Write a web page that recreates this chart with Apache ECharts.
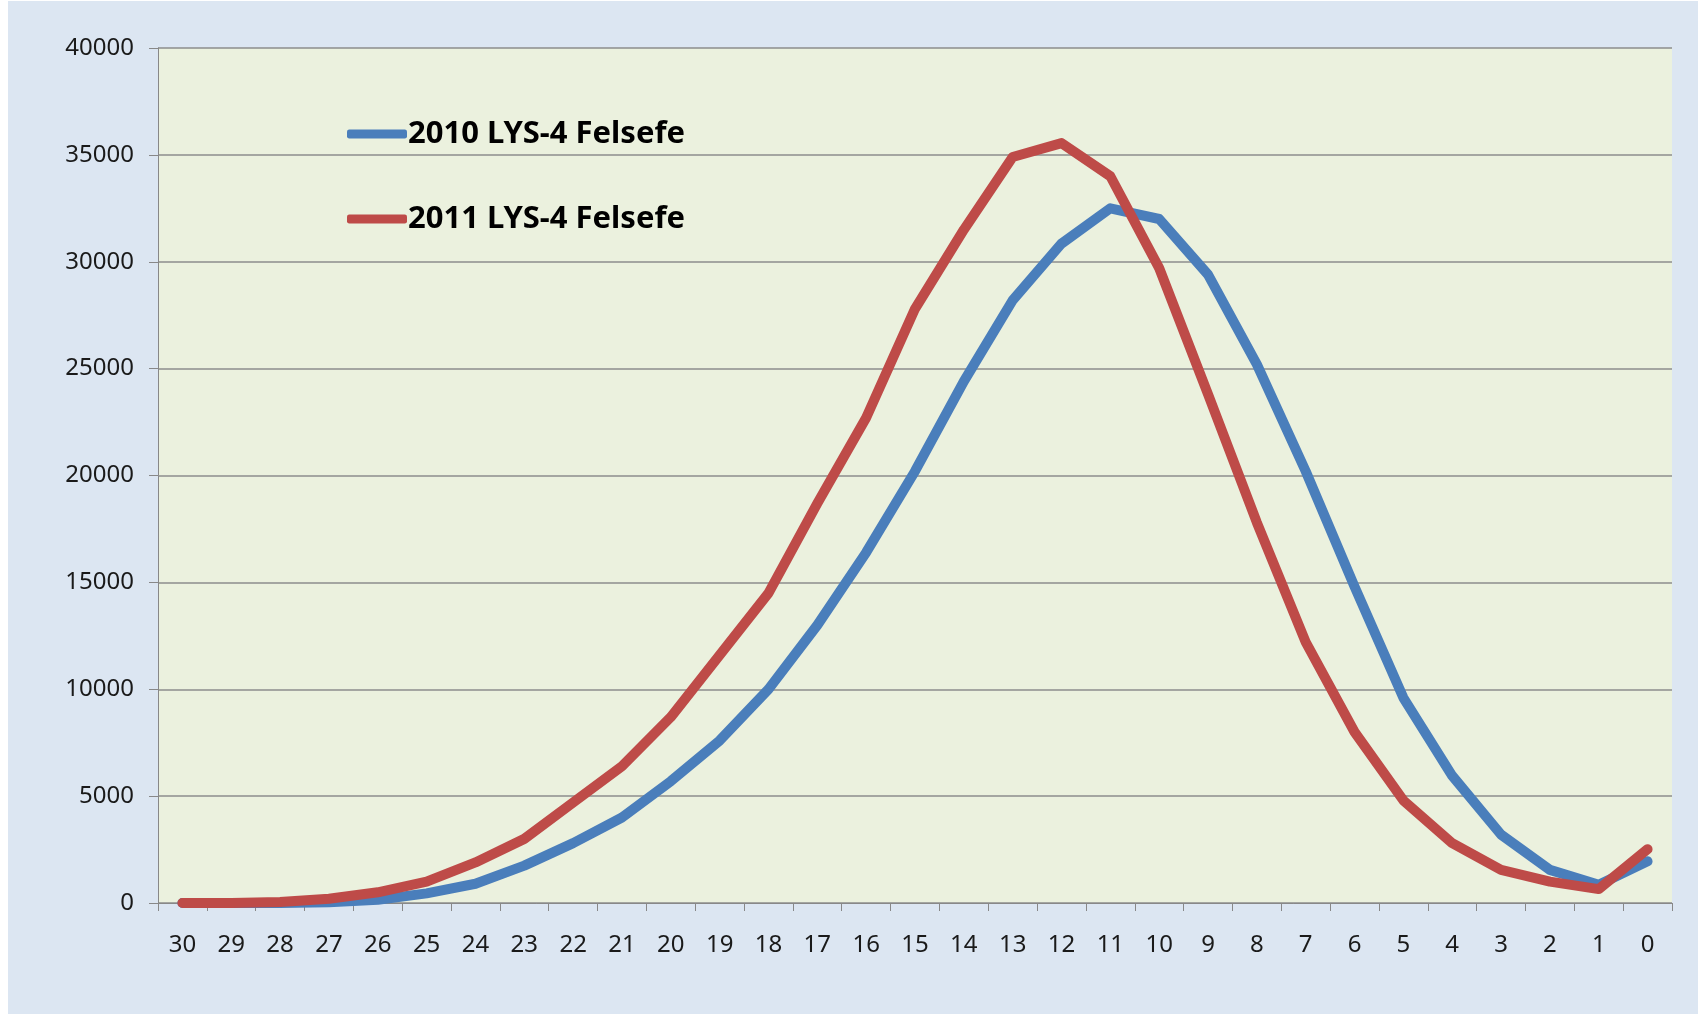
<!DOCTYPE html>
<html>
<head>
<meta charset="utf-8">
<script src="https://cdn.jsdelivr.net/npm/echarts@6/dist/echarts.min.js"></script>
<style>
  html, body { margin: 0; padding: 0; background: #ffffff; }
  #chart { position: absolute; left: 8px; top: 1px; width: 1690px; height: 1013px; }
</style>
</head>
<body>
<div id="chart"></div>
<script>
// puan (x ekseni) 30 -> 0
const categories = ['30', '29', '28', '27', '26', '25', '24', '23', '22', '21', '20',
  '19', '18', '17', '16', '15', '14', '13', '12', '11', '10',
  '9', '8', '7', '6', '5', '4', '3', '2', '1', '0']

const seriesNames = ['2010 LYS-4 Felsefe', '2011 LYS-4 Felsefe']

const values2010 = [0, 0, 0, 30, 150, 450, 900, 1750, 2800, 4000, 5700,
  7600, 10000, 13000, 16400, 20200, 24400, 28200, 30850, 32500, 32000,
  29400, 25200, 20200, 14800, 9600, 5950, 3200, 1550, 850, 1950]

const values2011 = [0, 0, 50, 200, 500, 1000, 1900, 3000, 4700, 6400, 8700,
  11600, 14500, 18700, 22700, 27800, 31500, 34900, 35550, 34000, 29700,
  23800, 17800, 12200, 8000, 4800, 2800, 1550, 1000, 650, 2520]

const yMin = 0
const yMax = 40000
const yStep = 5000

const chart = echarts.init(document.getElementById('chart'))

const option = {
  backgroundColor: '#DCE6F2',
  animation: false,
  color: ['#4A7EBB', '#BE4B48'],
  textStyle: { fontFamily: 'Noto Sans' },
  legend: {
    orient: 'vertical',
    left: 334,
    top: 108,
    icon: 'roundRect',
    itemWidth: 60,
    itemHeight: 9,
    itemGap: 45,
    data: seriesNames,
    textStyle: {
      fontFamily: 'Noto Sans',
      fontWeight: 'bold',
      fontSize: 31,
      lineHeight: 40,
      color: '#000000',
      padding: [0, 0, 0, -4]
    }
  },
  grid: {
    left: 150,
    top: 47,
    width: 1514,
    height: 855,
    show: true,
    backgroundColor: '#EBF1DE',
    borderWidth: 0
  },
  xAxis: {
    type: 'category',
    data: categories,
    boundaryGap: true,
    axisLine: { show: true, lineStyle: { color: '#888888', width: 1 } },
    axisTick: { show: true, length: 8, lineStyle: { color: '#888888' } },
    axisLabel: {
      interval: 0,
      margin: 30,
      fontSize: 24,
      color: '#1a1a1a',
      fontFamily: 'Noto Sans'
    },
    splitLine: { show: false }
  },
  yAxis: {
    type: 'value',
    min: yMin,
    max: yMax,
    interval: yStep,
    axisLine: { show: true, lineStyle: { color: '#888888', width: 1 } },
    axisTick: { show: true, length: 9, lineStyle: { color: '#888888' } },
    axisLabel: {
      margin: 24,
      fontSize: 24,
      color: '#1a1a1a',
      fontFamily: 'Noto Sans',
      formatter: function (v) { return String(v) }
    },
    splitLine: { show: true, lineStyle: { color: '#8C8C8C', width: 1.5 } }
  },
  series: [
    {
      name: seriesNames[0],
      type: 'line',
      data: values2010,
      showSymbol: false,
      symbol: 'none',
      smooth: false,
      lineStyle: { width: 10, cap: 'round', join: 'round' },
      z: 2
    },
    {
      name: seriesNames[1],
      type: 'line',
      data: values2011,
      showSymbol: false,
      symbol: 'none',
      smooth: false,
      lineStyle: { width: 10, cap: 'round', join: 'round' },
      z: 3
    }
  ]
}

chart.setOption(option)
</script>
</body>
</html>
